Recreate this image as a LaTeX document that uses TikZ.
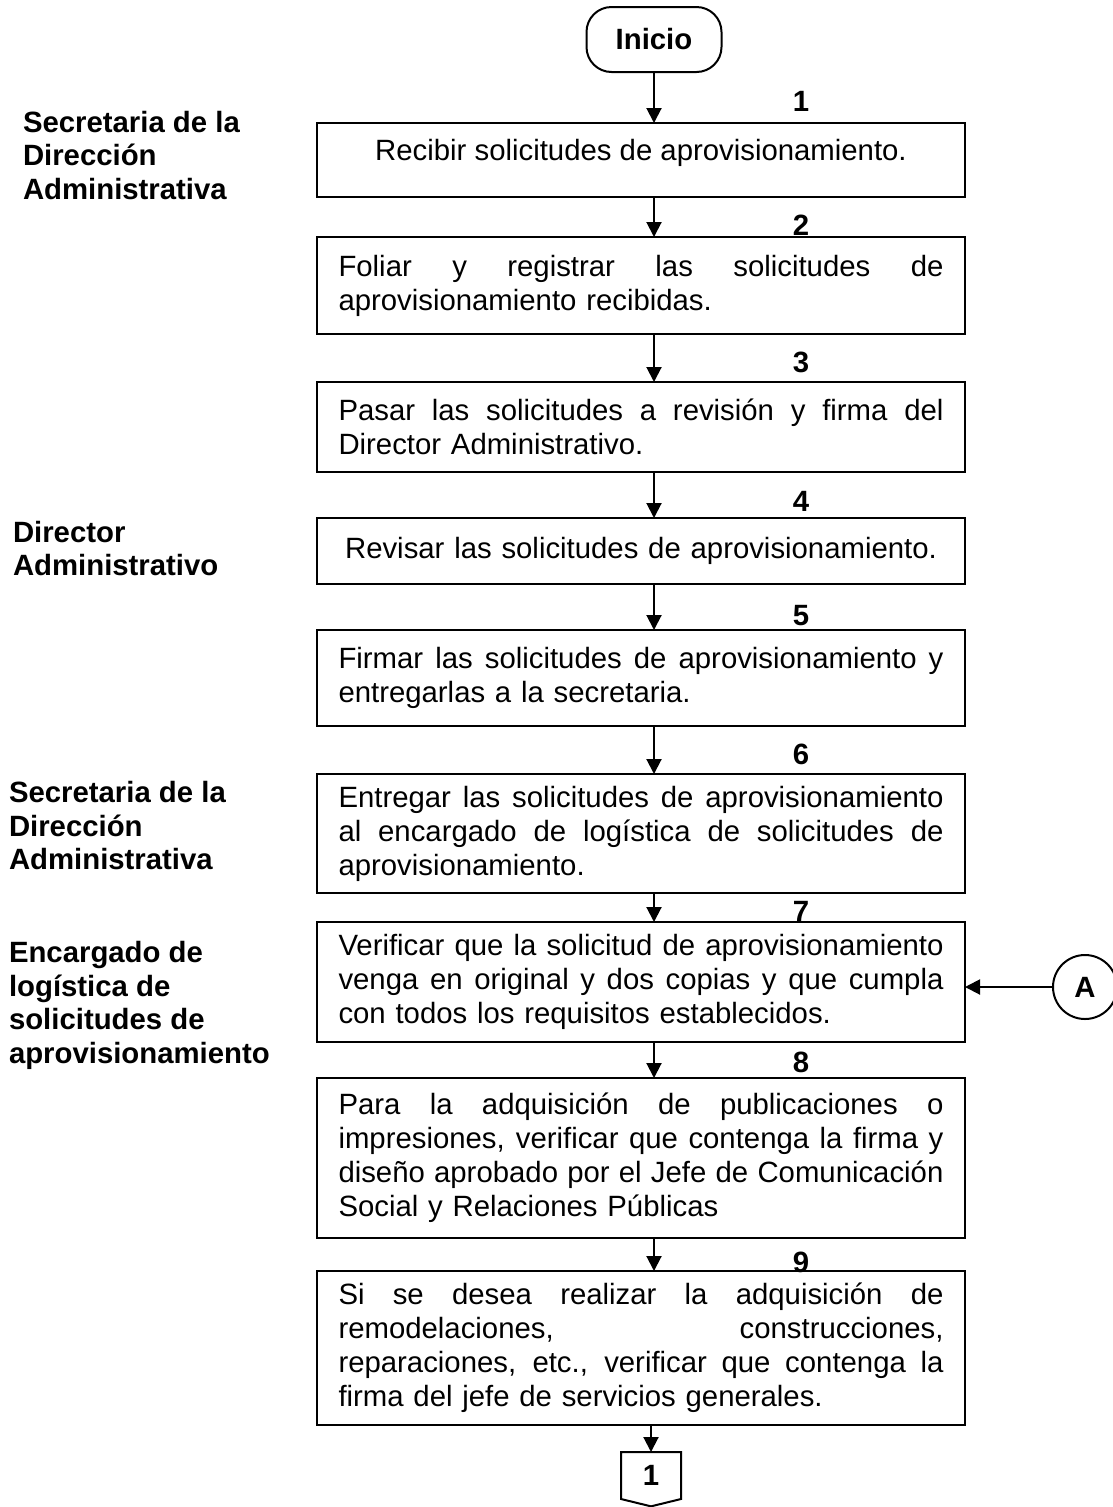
\documentclass[tikz,border=0pt]{standalone}
\usepackage{fontspec}
\setmainfont{Liberation Sans}
\usetikzlibrary{arrows.meta}
\newcommand\jl[1]{\makebox[453.75pt][s]{\spaceskip=0pt\xspaceskip=0pt #1}}
\begin{document}
\begin{tikzpicture}[x=0.75pt,y=-0.75pt,
  every node/.style={inner sep=0pt,outer sep=0pt},
  font=\fontsize{22pt}{25.5pt}\selectfont,
  stepbox/.style={draw,line width=1.5pt,minimum width=486pt,text width=453.75pt,align=left},
  centbox/.style={draw,line width=1.5pt,minimum width=486pt,text width=453.75pt,align=center},
  lab/.style={font=\bfseries\fontsize{22pt}{25.3pt}\selectfont,align=left,anchor=north west},
  num/.style={font=\bfseries\fontsize{22pt}{25pt}\selectfont},
  arr/.style={line width=1.5pt,-{Triangle[width=11.25pt,length=11.25pt]}}
]
\useasboundingbox (0,0) rectangle (1113,1507);
\clip (0,0) rectangle (1113,1507);
\coordinate (ax) at (654,0);

% start
\node[draw,line width=1.5pt,rounded corners=18.75pt,minimum width=101.25pt,minimum height=48.75pt,
  font=\bfseries\fontsize{22pt}{25pt}\selectfont] (ini) at (654,39.5) {Inicio};

% boxes
\node[centbox,minimum height=55.5pt] (b1) at (641,160) {};
\node[anchor=center] (t1) at ([yshift=5.25pt]b1.center) {Recibir solicitudes de aprovisionamiento.};
\node[stepbox,minimum height=72.75pt] (b2) at (641,285.5) {\jl{Foliar y registrar las solicitudes de}\\aprovisionamiento recibidas.};
\node[stepbox,minimum height=67.5pt] (b3) at (641,427) {\jl{Pasar las solicitudes a revisión y firma del}\\Director Administrativo.};
\node[centbox,minimum height=49.5pt] (b4) at (641,551) {Revisar las solicitudes de aprovisionamiento.};
\node[stepbox,minimum height=72pt] (b5) at (641,678) {\jl{Firmar las solicitudes de aprovisionamiento y}\\entregarlas a la secretaria.};
\node[stepbox,minimum height=89.25pt] (b6) at (641,833.5) {\jl{Entregar las solicitudes de aprovisionamiento}\\\jl{al encargado de logística de solicitudes de}\\aprovisionamiento.};
\node[stepbox,minimum height=90pt] (b7) at (641,982) {\jl{Verificar que la solicitud de aprovisionamiento}\\\jl{venga en original y dos copias y que cumpla}\\con todos los requisitos establecidos.};
\node[stepbox,minimum height=120pt] (b8) at (641,1158) {\jl{Para la adquisición de publicaciones o}\\\jl{impresiones, verificar que contenga la firma y}\\\jl{diseño aprobado por el Jefe de Comunicación}\\Social y Relaciones Públicas};
\node[stepbox,minimum height=115.5pt] (b9) at (641,1348) {\jl{Si se desea realizar la adquisición de}\\\jl{remodelaciones, construcciones,}\\\jl{reparaciones, etc., verificar que contenga la}\\firma del jefe de servicios generales.};

% numbers
\node[num] (n1) at (801,101.5) {1};
\node[num] (n2) at (801,225) {2};
\node[num] (n3) at (801,362) {3};
\node[num] (n4) at (801,501) {4};
\node[num] (n5) at (801,616) {5};
\node[num] (n6) at (801,754) {6};
\node[num] (n7) at (801,911) {7};
\node[num] (n8) at (801,1062) {8};
\node[num] (n9) at (801,1262) {9};

% role labels
\node[lab] (r1) at (23,111) {Secretaria de la\\Dirección\\Administrativa};
\node[lab] (r2) at (13,521) {Director\\Administrativo};
\node[lab] (r3) at (9,781) {Secretaria de la\\Dirección\\Administrativa};
\node[lab] (r4) at (9,941) {Encargado de\\logística de\\solicitudes de\\aprovisionamiento};

% connectors (off-page and on-page)
\node[draw,circle,line width=1.5pt,minimum size=48pt,font=\bfseries\fontsize{22pt}{25pt}\selectfont] (A) at (1085,987) {A};
\node[minimum width=45pt,minimum height=35.25pt,font=\bfseries\fontsize{22pt}{25pt}\selectfont] (c1) at (651,1475.5) {1};
\draw[line width=1.5pt,line join=miter] (c1.north west) -- (c1.north east) -- (c1.south east) -- ([yshift=-5.5pt]c1.south) -- (c1.south west) -- cycle;

% arrows
\draw[arr] (ini.south) -- (ini.south |- b1.north);
\draw[arr] (b1.south -| ax) -- (b2.north -| ax);
\draw[arr] (b2.south -| ax) -- (b3.north -| ax);
\draw[arr] (b3.south -| ax) -- (b4.north -| ax);
\draw[arr] (b4.south -| ax) -- (b5.north -| ax);
\draw[arr] (b5.south -| ax) -- (b6.north -| ax);
\draw[arr] (b6.south -| ax) -- (b7.north -| ax);
\draw[arr] (b7.south -| ax) -- (b8.north -| ax);
\draw[arr] (b8.south -| ax) -- (b9.north -| ax);
\draw[arr] (b9.south -| c1.north) -- (c1.north);
\draw[arr] (A.west) -- (A.west -| b7.east);
\end{tikzpicture}
\end{document}
